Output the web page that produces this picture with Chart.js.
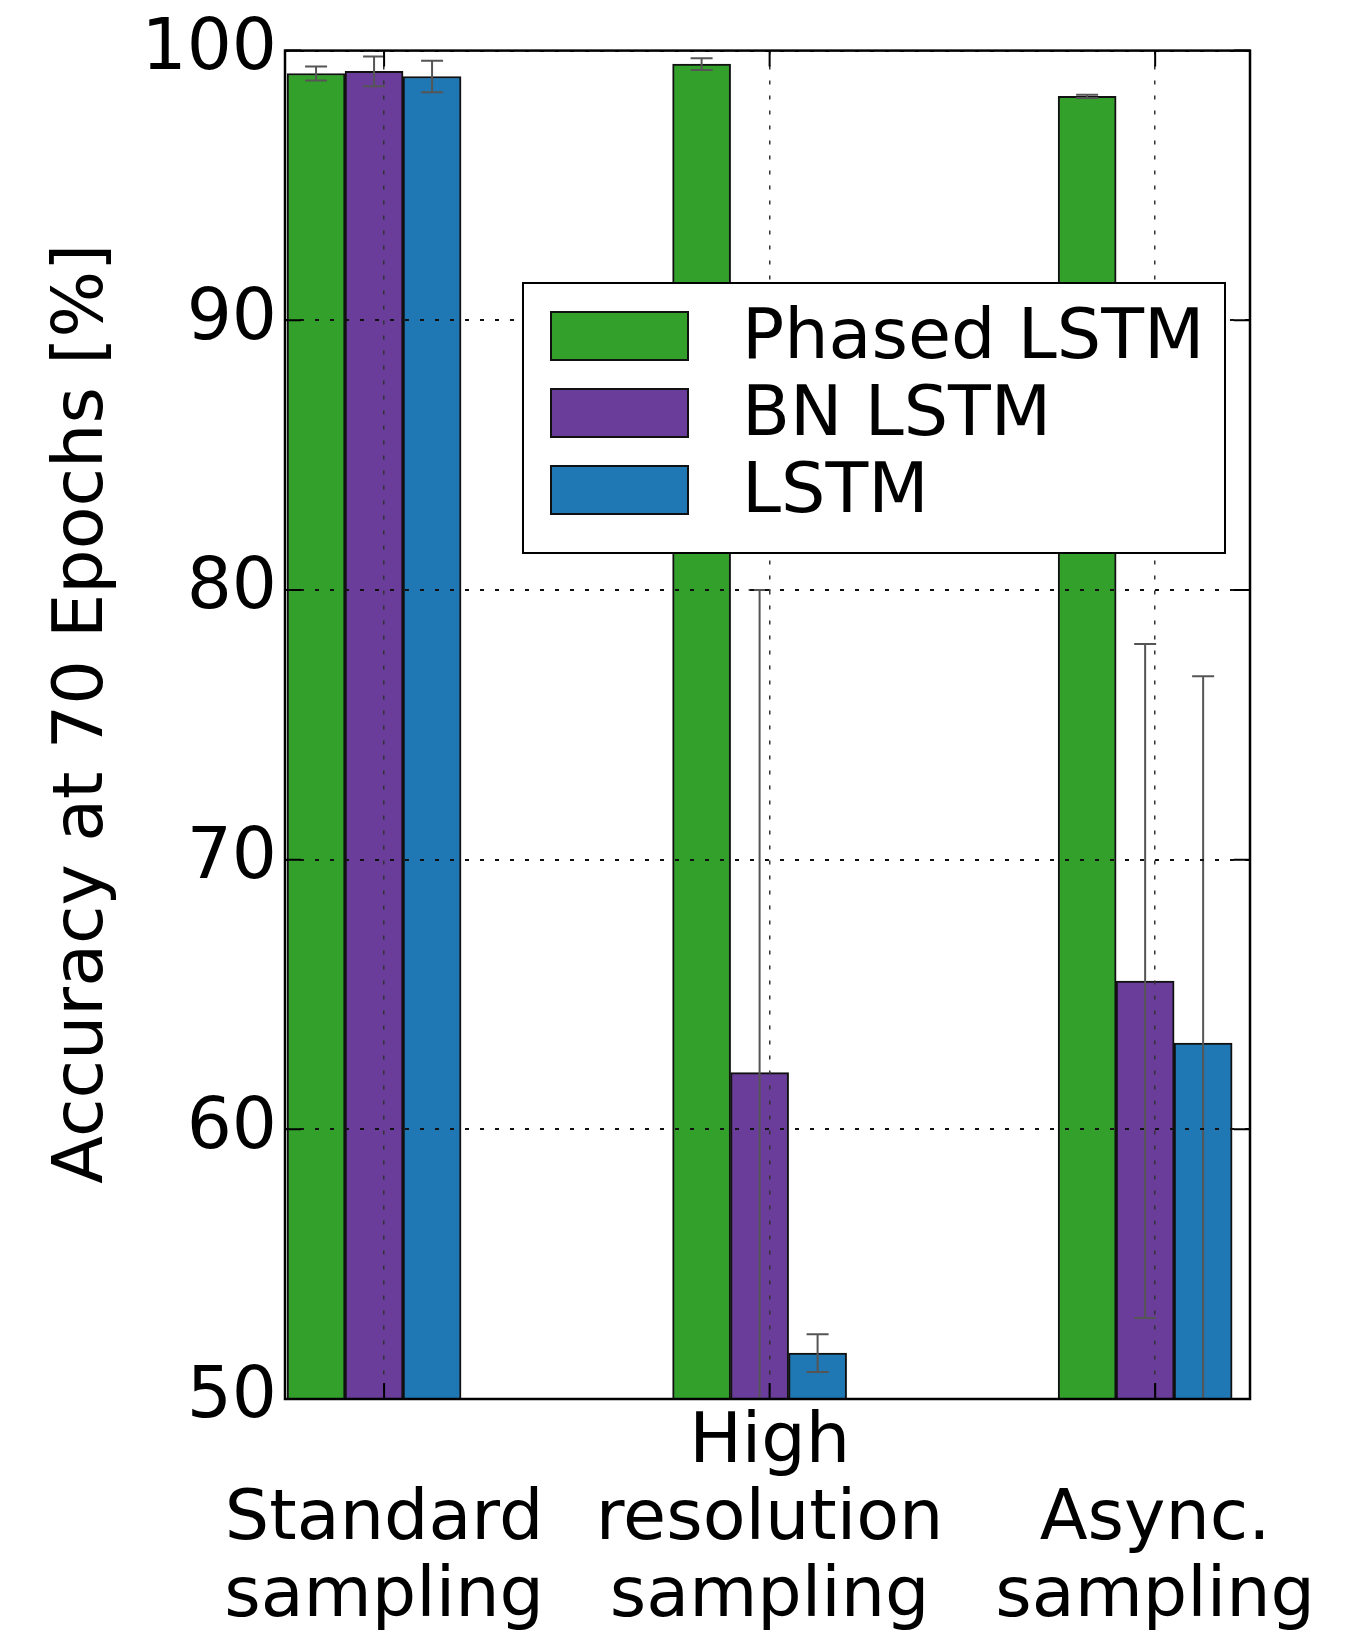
<!DOCTYPE html>
<html>
<head>
<meta charset="utf-8">
<script src="https://cdn.jsdelivr.net/npm/chart.js@4.4.0/dist/chart.umd.min.js"></script>
<style>
  body { margin: 0; background: #fff; }
  #wrap { position: relative; width: 1362px; height: 1636px; }
  #legend { position: absolute; left: 522px; top: 282px; width: 704px; height: 272px; box-sizing: border-box;
            border: 2px solid #000; background: #fff; padding: 27px 0 0 26px;
            font-family: 'DejaVu Sans'; font-size: 70px; color: #000; }
  .row { display: flex; height: 77px; }
  .patch { width: 139px; height: 50px; box-sizing: border-box; border: 2px solid #111; flex: none; }
  .lbl { margin-left: 53px; line-height: 50px; position: relative; top: -2px; white-space: nowrap; }
</style>
</head>
<body>
<div id="wrap">
  <canvas id="myChart" width="1362" height="1636"></canvas>
  <div id="legend"></div>
</div>
<script>
// categories (first line empty so the labels sit at the bottom like the original)
var categories = [['', 'Standard', 'sampling'], ['High', 'resolution', 'sampling'], ['', 'Async.', 'sampling']];
var seriesNames = ['Phased LSTM', 'BN LSTM', 'LSTM'];

// accuracy values [%] and error bar half-lengths
var phasedLstm = [99.15, 99.5, 98.3];
var phasedLstmErr = [0.26, 0.22, 0.06];
var bnLstm = [99.23, 62.1, 65.5];
var bnLstmErr = [0.55, 17.9, 12.5];
var lstm = [99.04, 51.7, 63.2];
var lstmErr = [0.58, 0.7, 13.6];

var yTicks = [50, 60, 70, 80, 90, 100];
var colors = ['#33a02c', '#6a3d9a', '#1f78b4'];
var FONT = 'DejaVu Sans';

function toPoints(vals) {
    return vals.map(function (v, i) { return { x: i, y: v }; });
}

var allValues = [phasedLstm, bnLstm, lstm];
var allErrors = [phasedLstmErr, bnLstmErr, lstmErr];

var datasets = seriesNames.map(function (name, k) {
    return {
        label: name,
        data: toPoints(allValues[k]),
        errors: allErrors[k],
        backgroundColor: colors[k],
        borderColor: '#111',
        borderWidth: 2,
        borderSkipped: false,
        barThickness: 58
    };
});

// error bars, drawn with the y scale
var errorBars = {
    id: 'errorBars',
    afterDatasetsDraw: function (chart) {
        var ctx = chart.ctx, y = chart.scales.y, a = chart.chartArea;
        ctx.save();
        ctx.beginPath();
        ctx.rect(a.left, a.top, a.right - a.left, a.bottom - a.top);
        ctx.clip();
        ctx.strokeStyle = '#555';
        ctx.lineWidth = 2;
        chart.data.datasets.forEach(function (ds, d) {
            chart.getDatasetMeta(d).data.forEach(function (bar, i) {
                var v = ds.data[i].y, e = ds.errors[i];
                var top = y.getPixelForValue(v + e), bot = y.getPixelForValue(v - e);
                ctx.beginPath();
                ctx.moveTo(bar.x, top); ctx.lineTo(bar.x, bot);
                ctx.moveTo(bar.x - 11, top); ctx.lineTo(bar.x + 11, top);
                ctx.moveTo(bar.x - 11, bot); ctx.lineTo(bar.x + 11, bot);
                ctx.stroke();
            });
        });
        ctx.restore();
    }
};

// box around the plot with inward ticks (matplotlib look)
var frame = {
    id: 'frame',
    afterDraw: function (chart) {
        var ctx = chart.ctx, a = chart.chartArea;
        var xs = chart.scales.x, ys = chart.scales.y;
        ctx.save();
        ctx.strokeStyle = '#000';
        ctx.lineWidth = 2;
        ctx.beginPath();
        ys.ticks.forEach(function (t) {
            var p = ys.getPixelForValue(t.value);
            ctx.moveTo(a.left, p); ctx.lineTo(a.left + 16, p);
            ctx.moveTo(a.right, p); ctx.lineTo(a.right - 16, p);
        });
        xs.ticks.forEach(function (t) {
            var p = xs.getPixelForValue(t.value);
            ctx.moveTo(p, a.bottom); ctx.lineTo(p, a.bottom - 16);
            ctx.moveTo(p, a.top); ctx.lineTo(p, a.top + 16);
        });
        ctx.stroke();
        ctx.lineWidth = 2.5;
        ctx.strokeRect(a.left, a.top, a.right - a.left, a.bottom - a.top);
        ctx.restore();
    }
};

var ctx = document.getElementById('myChart').getContext('2d');
var myChart = new Chart(ctx, {
    type: 'bar',
    data: { datasets: datasets },
    options: {
        responsive: false,
        animation: false,
        layout: { padding: { top: 50, right: 112, bottom: 0, left: 0 } },
        plugins: {
            legend: { display: false },
            tooltip: { enabled: false }
        },
        scales: {
            x: {
                type: 'linear',
                min: -0.231,
                max: 2.272,
                offset: false,
                afterBuildTicks: function (scale) {
                    scale.ticks = categories.map(function (c, i) { return { value: i + 0.026 }; });
                },
                afterFit: function (scale) { scale.height = 237; },
                grid: { offset: false, drawTicks: false, color: '#333', lineWidth: 1.5, z: 1 },
                border: { display: false, dash: [4, 11] },
                ticks: {
                    autoSkip: false, maxRotation: 0, minRotation: 0, padding: 6,
                    color: '#000',
                    font: { family: FONT, size: 70, lineHeight: 77 / 70 },
                    callback: function (value, index) { return categories[index]; }
                }
            },
            y: {
                min: 50,
                max: 100,
                afterBuildTicks: function (scale) {
                    scale.ticks = yTicks.map(function (v) { return { value: v }; });
                },
                afterFit: function (scale) { scale.width = 285; },
                grid: { drawTicks: false, color: '#111', lineWidth: 2, z: 1 },
                border: { display: false, dash: [4, 11] },
                ticks: {
                    padding: 8,
                    color: '#000',
                    font: { family: FONT, size: 71 }
                },
                title: {
                    display: true,
                    text: ' Accuracy at 70 Epochs [%]',
                    color: '#000',
                    font: { family: FONT, size: 70, lineHeight: 1.2 },
                    padding: { top: 42, bottom: 0 }
                }
            }
        }
    },
    plugins: [errorBars, frame]
});

// legend placed inside the axes like the original
var legend = document.getElementById('legend');
seriesNames.forEach(function (name, k) {
    var row = document.createElement('div');
    row.className = 'row';
    var patch = document.createElement('div');
    patch.className = 'patch';
    patch.style.background = colors[k];
    var lbl = document.createElement('span');
    lbl.className = 'lbl';
    lbl.textContent = name;
    row.appendChild(patch);
    row.appendChild(lbl);
    legend.appendChild(row);
});
</script>
</body>
</html>
